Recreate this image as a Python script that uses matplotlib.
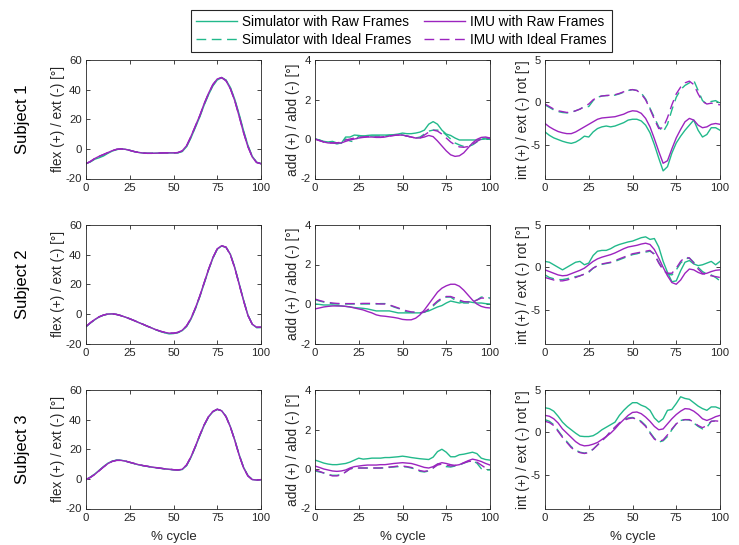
import matplotlib
matplotlib.use("Agg")
import matplotlib.pyplot as plt
import numpy as np

plt.rcParams['font.family'] = ['Liberation Sans', 'DejaVu Sans']
plt.rcParams['axes.unicode_minus'] = False

# gait cycle, every 2.5 %
pct = np.arange(0, 100.1, 2.5)

# ---- knee flexion / extension [deg]
s1_flex_sim_raw = [-10, -8.8, -7, -6, -4.8, -3, -1.5, -0.5, 0, -0.3, -1, -1.8, -2.4, -2.8, -3, -3, -2.9, -2.8, -2.7, -2.7, -2.7,
                   -2.7, -1.8, 1.5, 7.5, 14.5, 21.5, 29.5, 36.5, 42.5, 46.5, 48, 46.5, 41.5, 33.5, 23.5, 12.5, 2.5, -5, -9, -10]
s1_flex_sim_ideal = [-10, -8.6, -6.7, -5.3, -4, -2.7, -1.3, -0.4, 0, -0.3, -1, -1.8, -2.4, -2.8, -3, -3, -2.9, -2.8, -2.7, -2.7, -2.7,
                     -2.6, -1.6, 1.8, 8, 15, 22, 30, 37, 43, 47, 48.2, 46.3, 41, 33, 22.8, 11.8, 2, -5.3, -9.1, -10]
s1_flex_imu_raw = [-10, -8.5, -6.5, -5, -3.8, -2.5, -1.2, -0.3, 0, -0.3, -1, -1.8, -2.4, -2.8, -3, -3, -2.9, -2.8, -2.7, -2.7, -2.7,
                   -2.5, -1.3, 2.2, 8.5, 15.5, 22.5, 30.5, 37.5, 43.5, 47.2, 48.2, 46, 40.5, 32.5, 22, 11, 1.5, -5.5, -9.2, -10]
s1_flex_imu_ideal = [-10, -8.5, -6.5, -5, -3.8, -2.5, -1.2, -0.3, 0, -0.3, -1, -1.8, -2.4, -2.8, -3, -3, -2.9, -2.8, -2.7, -2.7, -2.7,
                     -2.5, -1.4, 2.1, 8.3, 15.3, 22.3, 30.3, 37.3, 43.3, 47.1, 48.1, 46, 40.6, 32.6, 22.2, 11.2, 1.6, -5.4, -9.2, -10]

s2_flex_sim_raw = [-8.7, -6.2, -4, -2.1, -0.9, -0.2, 0, -0.4, -1.2, -2.2, -3.3, -4.5, -5.8, -7, -8.3, -9.5, -10.8, -11.9, -12.8, -13.5,
                   -13.3, -12.7, -11.3, -8.5, -3.6, 3.3, 11.4, 20.4, 29.5, 37.5, 43.6, 45.8, 45, 40.3, 31.5, 20.6, 9.6, -0.6, -7, -9.3, -9.2]
s2_flex_sim_ideal = [-8.6, -6.1, -3.9, -2, -0.8, -0.1, 0, -0.4, -1.2, -2.2, -3.3, -4.5, -5.8, -7, -8.3, -9.5, -10.7, -11.8, -12.6, -13.2,
                     -13.1, -12.6, -11.1, -8.2, -3.2, 3.7, 11.8, 20.8, 29.8, 37.8, 43.8, 45.9, 45, 40.1, 31.2, 20.3, 9.3, -0.8, -7, -9.2, -9.1]
s2_flex_imu_raw = [-8.5, -6, -3.8, -2, -0.8, -0.1, 0, -0.4, -1.2, -2.2, -3.3, -4.5, -5.8, -7, -8.3, -9.5, -10.7, -11.7, -12.5, -13,
                   -13, -12.5, -11, -8, -3, 4, 12, 21, 30, 38, 44, 46, 45, 40, 31, 20, 9, -1, -7, -9, -9]
s2_flex_imu_ideal = [-8.5, -6, -3.8, -2, -0.8, -0.1, 0, -0.4, -1.2, -2.2, -3.3, -4.5, -5.8, -7, -8.3, -9.5, -10.7, -11.7, -12.5, -13,
                     -13, -12.5, -11, -8.1, -3.1, 3.9, 11.9, 20.9, 29.9, 37.9, 43.9, 46, 45, 40, 31, 20, 9, -1, -7, -9, -9]

s3_flex_sim_raw = [-0.5, 1.2, 3.3, 5.8, 8.3, 10.6, 12, 12.7, 12.6, 12, 11.1, 10.3, 9.5, 8.9, 8.4, 7.9, 7.5, 7.1, 6.7, 6.4, 6.1,
                   5.9, 6.3, 9, 14.5, 21.5, 29, 36, 41.7, 45.3, 46.9, 46, 42.2, 35.3, 26.4, 16.5, 8, 2.3, -0.4, -0.8, -0.6]
s3_flex_sim_ideal = [-0.5, 1.1, 3.1, 5.6, 8.1, 10.4, 11.9, 12.6, 12.5, 12, 11.2, 10.4, 9.6, 9, 8.5, 8, 7.6, 7.2, 6.8, 6.5, 6.2,
                     6, 6.4, 9.2, 14.7, 21.7, 29.2, 36.2, 41.8, 45.4, 47, 46, 42.1, 35.2, 26.2, 16.3, 7.8, 2.2, -0.5, -0.8, -0.5]
s3_flex_imu_raw = [-0.5, 1, 3, 5.5, 8, 10.3, 11.8, 12.5, 12.5, 12, 11.2, 10.4, 9.6, 9, 8.5, 8, 7.6, 7.2, 6.8, 6.5, 6.2,
                   6, 6.5, 9.5, 15, 22, 29.5, 36.5, 42, 45.5, 47, 46, 42, 35, 26, 16, 7.5, 2, -0.5, -0.8, -0.5]
s3_flex_imu_ideal = [-0.5, 1, 3, 5.5, 8, 10.3, 11.8, 12.5, 12.5, 12, 11.2, 10.4, 9.6, 9, 8.5, 8, 7.6, 7.2, 6.8, 6.5, 6.2,
                     6, 6.5, 9.4, 14.9, 21.9, 29.4, 36.4, 42, 45.5, 47, 46, 42, 35, 26, 16, 7.6, 2, -0.5, -0.8, -0.5]

# ---- knee adduction / abduction [deg]
s1_add_sim_raw = [0, -0.05, -0.12, -0.15, -0.12, -0.2, -0.22, 0.1, 0.1, 0.2, 0.18, 0.15, 0.18, 0.2, 0.2, 0.2, 0.2, 0.2, 0.22, 0.25, 0.3,
                  0.27, 0.27, 0.3, 0.35, 0.45, 0.75, 0.88, 0.75, 0.45, 0.25, 0.18, 0.05, -0.05, -0.05, -0.05, -0.05, -0.05, -0.02, 0, -0.02]
s1_add_sim_ideal = [0, -0.05, -0.15, -0.15, -0.18, -0.25, -0.2, 0, -0.1, -0.15, 0.15, 0.15, 0.15, 0.15, 0.15, 0.15, 0.15, 0.2, 0.2, 0.22, 0.2,
                    0.15, 0.1, 0.05, 0.1, 0.25, 0.4, 0.45, 0.45, 0.4, 0.2, 0, -0.2, -0.3, -0.38, -0.38, -0.3, -0.15, 0, 0.05, 0]
s1_add_imu_raw = [0, -0.08, -0.15, -0.2, -0.2, -0.2, -0.2, -0.12, -0.05, 0, 0.05, 0.08, 0.1, 0.1, 0.08, 0.08, 0.1, 0.15, 0.18, 0.2, 0.2,
                  0.15, 0.1, 0.05, 0.05, 0.1, 0.18, 0.12, -0.1, -0.35, -0.6, -0.8, -0.88, -0.85, -0.7, -0.45, -0.2, -0.02, 0.08, 0.1, 0.05]
s1_add_imu_ideal = [0, -0.08, -0.15, -0.2, -0.2, -0.2, -0.15, -0.05, 0, 0.05, 0.08, 0.1, 0.12, 0.12, 0.1, 0.1, 0.12, 0.15, 0.18, 0.2, 0.2,
                    0.15, 0.1, 0.05, 0.05, 0.2, 0.35, 0.45, 0.4, 0.25, 0.05, -0.15, -0.3, -0.4, -0.42, -0.38, -0.28, -0.12, 0, 0.05, 0.05]

s2_add_sim_raw = [0, -0.02, -0.05, -0.05, -0.05, -0.08, -0.1, -0.12, -0.15, -0.18, -0.2, -0.22, -0.25, -0.3, -0.35, -0.35, -0.35, -0.35, -0.4, -0.45, -0.45,
                  -0.45, -0.45, -0.45, -0.45, -0.4, -0.35, -0.25, -0.15, -0.08, 0.05, 0.15, 0.1, 0.05, 0.1, 0.12, 0.08, 0.05, 0.05, 0.02, 0]
s2_add_sim_ideal = [0.22, 0.15, 0.1, 0.05, 0.02, 0, 0, 0, 0, 0, 0, 0, 0, 0, 0, 0.02, 0.02, -0.05, -0.15, -0.22, -0.3,
                    -0.4, -0.42, -0.42, -0.45, -0.42, -0.3, -0.1, 0.1, 0.25, 0.35, 0.35, 0.2, 0.15, 0.05, 0.05, 0.1, 0.2, 0.35, 0.35, 0.3]
s2_add_imu_raw = [-0.25, -0.2, -0.15, -0.12, -0.1, -0.1, -0.1, -0.12, -0.15, -0.2, -0.25, -0.3, -0.38, -0.45, -0.55, -0.6, -0.62, -0.65, -0.68, -0.72, -0.78,
                  -0.8, -0.8, -0.72, -0.55, -0.3, 0, 0.3, 0.6, 0.8, 0.92, 1.0, 1.0, 0.9, 0.7, 0.45, 0.2, 0, -0.12, -0.18, -0.2]
s2_add_imu_ideal = [0.25, 0.18, 0.12, 0.08, 0.05, 0.03, 0.02, 0.02, 0.02, 0.02, 0.02, 0.03, 0.03, 0.03, 0.02, 0, 0, -0.05, -0.12, -0.2, -0.28,
                    -0.35, -0.4, -0.42, -0.45, -0.4, -0.25, -0.05, 0.15, 0.3, 0.38, 0.38, 0.3, 0.2, 0.12, 0.1, 0.12, 0.2, 0.3, 0.3, 0.28]

s3_add_sim_raw = [0.45, 0.38, 0.3, 0.25, 0.22, 0.22, 0.25, 0.28, 0.35, 0.45, 0.55, 0.5, 0.52, 0.55, 0.55, 0.55, 0.58, 0.58, 0.6, 0.62, 0.65,
                  0.62, 0.58, 0.55, 0.52, 0.5, 0.48, 0.6, 0.88, 1.0, 0.85, 0.62, 0.62, 0.72, 0.75, 0.8, 0.85, 0.78, 0.55, 0.48, 0.45]
s3_add_sim_ideal = [-0.1, -0.15, -0.2, -0.28, -0.32, -0.32, -0.28, -0.15, 0.02, 0.05, 0.05, 0.05, 0.05, 0.05, 0.05, 0.05, 0.05, 0.08, 0.1, 0.12, 0.12,
                    0.1, 0.05, 0, -0.12, -0.15, -0.1, 0.05, 0.25, 0.25, 0.12, 0.1, 0.15, 0.2, 0.3, 0.38, 0.42, 0.3, 0.02, -0.05, -0.05]
s3_add_imu_raw = [0.15, 0.08, 0.0, -0.05, -0.1, -0.12, -0.1, -0.05, 0.05, 0.12, 0.15, 0.18, 0.2, 0.2, 0.2, 0.22, 0.22, 0.25, 0.28, 0.3, 0.32,
                  0.3, 0.28, 0.22, 0.15, 0.08, 0.05, 0.12, 0.25, 0.32, 0.28, 0.22, 0.18, 0.22, 0.32, 0.42, 0.5, 0.45, 0.38, 0.28, 0.2]
s3_add_imu_ideal = [-0.05, -0.12, -0.2, -0.28, -0.35, -0.35, -0.3, -0.15, 0, 0.05, 0.05, 0.05, 0.05, 0.05, 0.05, 0.05, 0.08, 0.1, 0.12, 0.15, 0.15,
                    0.12, 0.08, 0, -0.08, -0.12, -0.08, 0.05, 0.2, 0.25, 0.2, 0.15, 0.18, 0.22, 0.3, 0.38, 0.4, 0.35, 0.2, 0.05, -0.02]

# ---- knee internal / external rotation [deg]
s1_rot_sim_raw = [-3.5, -3.9, -4.2, -4.4, -4.6, -4.75, -4.85, -4.7, -4.4, -4.0, -4.1, -3.5, -3.1, -2.9, -2.8, -2.9, -2.8, -2.6, -2.4, -2.1, -2.0,
                  -2.0, -2.2, -2.7, -3.6, -5.0, -6.6, -8.1, -7.6, -6.0, -4.8, -4.0, -3.3, -2.7, -2.1, -3.3, -4.1, -3.8, -3.0, -3.0, -3.3]
s1_rot_sim_ideal = [-0.3, -0.6, -0.9, -1.1, -1.2, -1.25, -1.2, -1.0, -0.8, -0.5, -0.5, 0.2, 0.6, 0.75, 0.8, 0.8, 0.85, 1.0, 1.2, 1.4, 1.5,
                    1.4, 1.1, 0.4, -0.7, -1.8, -2.9, -3.5, -2.6, -0.9, 0.6, 1.5, 2.0, 2.3, 2.6, 1.4, 0.2, -0.2, 0.1, 0.2, -0.1]
s1_rot_imu_raw = [-2.5, -2.9, -3.2, -3.45, -3.6, -3.7, -3.7, -3.5, -3.2, -2.9, -2.6, -2.3, -2.0, -1.85, -1.8, -1.75, -1.7, -1.55, -1.4, -1.15, -1.0,
                  -1.05, -1.3, -1.9, -2.9, -4.3, -5.8, -7.2, -6.9, -5.5, -4.2, -3.2, -2.3, -1.9, -2.1, -2.7, -3.0, -2.9, -2.6, -2.5, -2.6]
s1_rot_imu_ideal = [-0.2, -0.5, -0.8, -1.0, -1.1, -1.2, -1.15, -1.0, -0.8, -0.5, -0.2, 0.3, 0.6, 0.75, 0.8, 0.85, 0.9, 1.05, 1.25, 1.45, 1.5,
                    1.4, 1.0, 0.3, -0.8, -2.0, -3.1, -3.0, -1.8, -0.3, 1.0, 1.8, 2.3, 2.5, 2.1, 1.0, 0.1, -0.2, -0.1, -0.2, -0.3]

s2_rot_sim_raw = [0.7, 0.6, 0.3, 0.0, -0.3, 0.0, 0.3, 0.6, 0.7, 0.3, 0.5, 1.4, 1.9, 2.0, 2.0, 2.2, 2.5, 2.7, 2.85, 3.0, 3.1,
                  3.3, 3.5, 3.6, 3.3, 3.4, 2.4, 0.7, -0.6, -1.7, -1.6, -0.4, 0.6, 0.8, 0.4, 0.2, 0.3, 0.5, 0.7, 0.3, 0.7]
s2_rot_sim_ideal = [-0.9, -1.2, -1.35, -1.45, -1.45, -1.35, -1.2, -1.1, -1.0, -0.8, -0.6, -0.1, 0.2, 0.35, 0.45, 0.55, 0.7, 0.9, 1.1, 1.3, 1.5,
                    1.6, 1.75, 1.8, 1.9, 1.6, 0.6, -0.3, -0.8, -0.9, -0.3, 0.5, 1.0, 1.1, 0.6, 0.0, -0.5, -0.8, -0.9, -1.2, -1.6]
s2_rot_imu_raw = [-0.3, -0.5, -0.7, -0.9, -1.0, -0.95, -0.75, -0.55, -0.35, -0.1, 0.3, 0.7, 1.0, 1.2, 1.35, 1.5, 1.7, 1.95, 2.2, 2.4, 2.5,
                  2.6, 2.75, 2.85, 2.7, 2.1, 1.1, 0.0, -1.0, -1.8, -2.0, -1.5, -0.7, -0.2, -0.3, -0.6, -0.8, -0.7, -0.5, -0.35, -0.3]
s2_rot_imu_ideal = [-1.2, -1.35, -1.5, -1.6, -1.6, -1.5, -1.35, -1.2, -1.0, -0.8, -0.5, -0.1, 0.2, 0.4, 0.5, 0.6, 0.8, 1.0, 1.2, 1.4, 1.6,
                    1.7, 1.8, 1.9, 2.0, 1.5, 0.5, -0.3, -0.7, -0.7, -0.1, 0.7, 1.2, 1.1, 0.5, -0.2, -0.7, -0.9, -1.0, -1.1, -1.2]

s3_rot_sim_raw = [2.9, 2.8, 2.5, 1.9, 1.2, 0.7, 0.3, -0.1, -0.45, -0.5, -0.5, -0.4, -0.1, 0.3, 0.6, 0.9, 1.2, 2.0, 2.6, 3.1, 3.5,
                  3.5, 3.2, 3.0, 2.6, 1.7, 1.2, 1.6, 2.6, 2.7, 3.4, 4.2, 4.0, 3.9, 3.5, 3.1, 2.8, 2.6, 3.0, 3.0, 2.8]
s3_rot_sim_ideal = [1.5, 1.3, 0.9, 0.2, -0.5, -1.1, -1.7, -2.1, -2.35, -2.45, -2.35, -2.0, -1.5, -1.0, -0.5, 0.1, 0.6, 1.1, 1.5, 1.7, 1.75,
                    1.6, 1.3, 0.8, 0.0, -0.7, -1.15, -1.0, -0.5, 0.3, 1.0, 1.4, 1.5, 1.45, 1.1, 0.7, 0.4, 0.6, 1.3, 1.35, 1.2]
s3_rot_imu_raw = [2.0, 1.9, 1.6, 1.1, 0.4, -0.1, -0.6, -1.1, -1.45, -1.6, -1.55, -1.4, -1.2, -0.85, -0.5, -0.1, 0.4, 1.0, 1.5, 2.0, 2.35,
                  2.4, 2.2, 1.8, 1.3, 0.7, 0.3, 0.4, 1.0, 1.6, 2.1, 2.5, 2.8, 2.75, 2.5, 2.1, 1.6, 1.4, 1.6, 1.85, 2.0]
s3_rot_imu_ideal = [1.3, 1.15, 0.8, 0.1, -0.6, -1.2, -1.8, -2.2, -2.4, -2.5, -2.4, -2.0, -1.5, -1.0, -0.5, 0.1, 0.6, 1.1, 1.4, 1.6, 1.7,
                    1.55, 1.2, 0.7, -0.1, -0.8, -1.1, -0.9, -0.3, 0.4, 1.0, 1.4, 1.5, 1.5, 1.2, 0.8, 0.55, 0.8, 1.3, 1.35, 1.3]

subjects = ["Subject 1", "Subject 2", "Subject 3"]
series_names = ["Simulator with Raw Frames", "Simulator with Ideal Frames",
                "IMU with Raw Frames", "IMU with Ideal Frames"]
ylabels = ["flex (+) / ext (-) [°]", "add (+) / abd (-) [°]", "int (+) / ext (-) rot [°]"]
ylims = [(-20, 60), (-2, 4), (-9, 5)]
yticks = [[-20, 0, 20, 40, 60], [-2, 0, 2, 4], [-5, 0, 5]]

# [subject][angle] -> (sim raw, sim ideal, imu raw, imu ideal)
data = [
    [(s1_flex_sim_raw, s1_flex_sim_ideal, s1_flex_imu_raw, s1_flex_imu_ideal),
     (s1_add_sim_raw, s1_add_sim_ideal, s1_add_imu_raw, s1_add_imu_ideal),
     (s1_rot_sim_raw, s1_rot_sim_ideal, s1_rot_imu_raw, s1_rot_imu_ideal)],
    [(s2_flex_sim_raw, s2_flex_sim_ideal, s2_flex_imu_raw, s2_flex_imu_ideal),
     (s2_add_sim_raw, s2_add_sim_ideal, s2_add_imu_raw, s2_add_imu_ideal),
     (s2_rot_sim_raw, s2_rot_sim_ideal, s2_rot_imu_raw, s2_rot_imu_ideal)],
    [(s3_flex_sim_raw, s3_flex_sim_ideal, s3_flex_imu_raw, s3_flex_imu_ideal),
     (s3_add_sim_raw, s3_add_sim_ideal, s3_add_imu_raw, s3_add_imu_ideal),
     (s3_rot_sim_raw, s3_rot_sim_ideal, s3_rot_imu_raw, s3_rot_imu_ideal)],
]

green = '#22b98b'
purple = '#9c24bf'
dash = (0, (7, 4))
styles = [(green, '-'), (green, dash), (purple, '-'), (purple, dash)]

fig = plt.figure(figsize=(7.39, 5.45), dpi=100)

lefts = [86, 315, 545]
tops = [60, 225, 390]
W, H = 175, 118.5
dark = '#262626'

handles = []
for r in range(3):
    for c in range(3):
        ax = fig.add_axes([lefts[c] / 739, 1 - (tops[r] + H) / 545, W / 739, H / 545])
        for k, (col, ls) in enumerate(styles):
            ln, = ax.plot(pct, data[r][c][k], color=col, linestyle=ls, lw=1.0)
            if r == 0 and c == 0:
                handles.append(ln)
        ax.set_xlim(0, 100)
        ax.set_ylim(*ylims[c])
        ax.set_xticks([0, 25, 50, 75, 100])
        ax.set_yticks(yticks[c])
        ax.tick_params(direction='in', top=True, right=True, length=3, width=0.6,
                       labelsize=8.2, colors=dark, pad=3)
        for sp in ax.spines.values():
            sp.set_color(dark)
            sp.set_linewidth(0.6)
        ax.set_ylabel(ylabels[c], fontsize=9.8, color=dark, labelpad=0.5)
        if r == 2:
            ax.set_xlabel('% cycle', fontsize=9.5, color=dark, labelpad=6)
        if c == 0:
            fig.text(22 / 739, 1 - (tops[r] + H / 2) / 545, subjects[r], rotation=90,
                     ha='center', va='center', fontsize=12, color='black')

leg = fig.legend(handles, series_names, ncol=2, loc='center',
                 bbox_to_anchor=(401.5 / 739, 1 - 31 / 545), fontsize=9.8, frameon=True,
                 fancybox=False, edgecolor=dark, framealpha=1, handlelength=3.0,
                 handletextpad=0.4, columnspacing=0.9, borderpad=0.35, labelspacing=0.3)
leg.get_frame().set_linewidth(0.8)

fig.savefig('out.png', dpi=100)
